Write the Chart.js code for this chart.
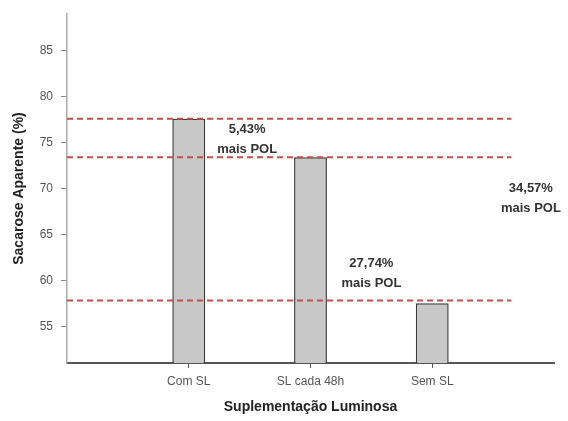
<!DOCTYPE html>
<html>
<head>
<meta charset="utf-8">
<script src="https://cdn.jsdelivr.net/npm/chart.js@4"></script>
<style>
    html, body { margin: 0; padding: 0; background: #fff; }
    #wrap { width: 568px; height: 421px; position: relative; }
</style>
</head>
<body>
<div id="wrap"><canvas id="chart"></canvas></div>
<script>
// values
const categories = ['Com SL', 'SL cada 48h', 'Sem SL'];
const sacarose = [77.6, 73.4, 57.5];
const refLevels = [77.6, 73.4, 57.8];
const yTicks = [55, 60, 65, 70, 75, 80, 85];
const notes = ['5,43%', '27,74%', '34,57%'];
const noteAt = [[0.48, 75.3], [1.5, 60.8], [2.81, 68.9]];

const redDash = '#c0504d';
const fontFamily = '"Liberation Sans", Arial, sans-serif';

const notesPlugin = {
    id: 'notes',
    afterDatasetsDraw(chart) {
        const { ctx, scales: { x, y } } = chart;
        ctx.save();
        ctx.fillStyle = '#333';
        ctx.font = 'bold 13px ' + fontFamily;
        ctx.textAlign = 'center';
        ctx.textBaseline = 'middle';
        notes.forEach((txt, i) => {
            const px = x.getPixelForValue(noteAt[i][0]);
            const py = y.getPixelForValue(noteAt[i][1]);
            ctx.fillText(txt, px, py - 10);
            ctx.fillText('mais POL', px, py + 10);
        });
        ctx.restore();
    }
};

const lineSets = refLevels.map(level => ({
    type: 'line',
    data: [{ x: -1, y: level }, { x: 2.65, y: level }],
    borderColor: redDash,
    borderWidth: 2,
    borderDash: [6, 4],
    pointRadius: 0,
    order: 0
}));

new Chart(document.getElementById('chart'), {
    type: 'bar',
    data: {
        datasets: [{
            data: sacarose.map((v, i) => ({ x: i, y: v })),
            backgroundColor: '#c8c8c8',
            borderColor: '#3a3a3a',
            borderWidth: 1.5,
            categoryPercentage: 1,
            barPercentage: 0.27,
            order: 1
        }, ...lineSets]
    },
    options: {
        responsive: true,
        maintainAspectRatio: false,
        animation: false,
        layout: { padding: { top: 12, right: 14, left: 0, bottom: 0 } },
        plugins: {
            legend: { display: false },
            tooltip: { enabled: false }
        },
        scales: {
            x: {
                type: 'linear',
                min: -1,
                max: 3,
                offset: false,
                afterBuildTicks: scale => {
                    scale.ticks = categories.map((c, i) => ({ value: i }));
                },
                afterFit: scale => { scale.height = 58; },
                ticks: {
                    autoSkip: false,
                    maxRotation: 0,
                    padding: 6,
                    color: '#555',
                    font: { family: fontFamily, size: 12 },
                    callback: v => categories[v] || ''
                },
                grid: { drawOnChartArea: false, offset: false, tickLength: 5, color: '#555' },
                border: { color: '#555', width: 2 },
                title: {
                    display: true,
                    text: 'Suplementação Luminosa',
                    color: '#222',
                    padding: { top: 0, bottom: 5 },
                    font: { family: fontFamily, size: 14, weight: 'bold' }
                }
            },
            y: {
                min: 51,
                max: 89,
                afterBuildTicks: scale => {
                    scale.ticks = yTicks.map(v => ({ value: v }));
                },
                afterFit: scale => { scale.width = 67; },
                ticks: {
                    padding: 8,
                    color: '#555',
                    font: { family: fontFamily, size: 12, lineHeight: 1 }
                },
                grid: { drawOnChartArea: false, tickLength: 6, color: '#888' },
                border: { color: '#aaa', width: 1.5 },
                title: {
                    display: true,
                    text: 'Sacarose Aparente (%)',
                    color: '#222',
                    padding: { top: 11, bottom: 0 },
                    font: { family: fontFamily, size: 14, weight: 'bold' }
                }
            }
        }
    },
    plugins: [notesPlugin]
});
</script>
</body>
</html>
